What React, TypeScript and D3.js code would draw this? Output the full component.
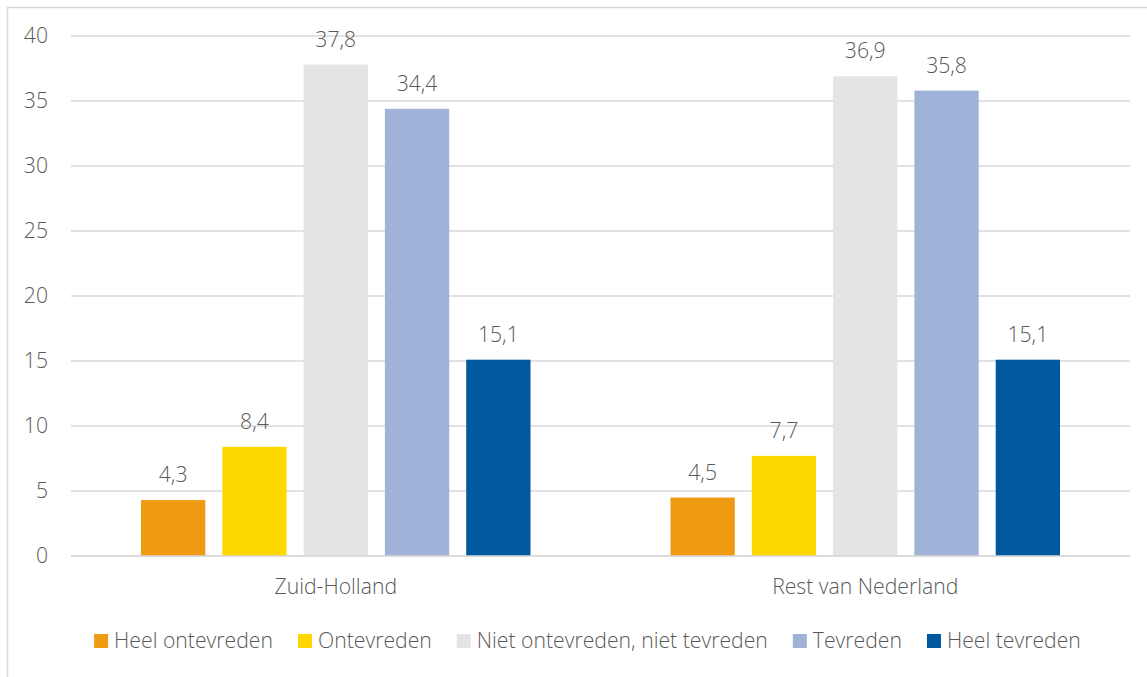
import React, { useEffect, useRef } from "react";
import * as d3 from "d3";

const categories = ["Zuid-Holland", "Rest van Nederland"];
const seriesNames = [
  "Heel ontevreden",
  "Ontevreden",
  "Niet ontevreden, niet tevreden",
  "Tevreden",
  "Heel tevreden",
];
const seriesColors = ["#EE9A13", "#FFD800", "#E4E4E4", "#9FB2D8", "#00589F"];
const zuidHolland = [4.3, 8.4, 37.8, 34.4, 15.1];
const restNederland = [4.5, 7.7, 36.9, 35.8, 15.1];
const yTicks = [0, 5, 10, 15, 20, 25, 30, 35, 40];

const W = 1147;
const H = 677;
const FONT = "'Open Sans', 'Noto Sans', sans-serif";
const WEIGHT = 300;
const FS = 21.2;
const TEXT = "#595959";

export default function App() {
  const ref = useRef<SVGSVGElement | null>(null);

  useEffect(() => {
    const svg = d3.select(ref.current);
    svg.selectAll("*").remove();
    const values = [zuidHolland, restNederland];

    svg
      .append("rect")
      .attr("x", 7.5)
      .attr("y", 7.5)
      .attr("width", W + 20)
      .attr("height", H + 20)
      .attr("fill", "white")
      .attr("stroke", "#D9D9D9")
      .attr("stroke-width", 1.5);

    const left = 71;
    const right = 1130;
    const top = 36;
    const bottom = 556;

    const y = d3.scaleLinear().domain([0, 40]).range([bottom, top]);
    const x0 = d3.scaleBand().domain(categories).range([left, right]).paddingInner(0).paddingOuter(0);
    const inner = 70 / 529.5;
    const x1 = d3
      .scaleBand()
      .domain(seriesNames)
      .range([x0.bandwidth() * inner, x0.bandwidth() * (1 - inner)])
      .paddingInner(17 / 81.2)
      .paddingOuter(0);

    const txt = (sel: any) =>
      sel
        .attr("font-family", FONT)
        .attr("font-weight", WEIGHT)
        .attr("font-size", FS)
        .attr("fill", TEXT);

    const grid = svg.append("g");
    yTicks.forEach((t) => {
      grid
        .append("line")
        .attr("x1", left)
        .attr("x2", right)
        .attr("y1", y(t))
        .attr("y2", y(t))
        .attr("stroke", "#D9D9D9")
        .attr("stroke-width", 1.5);
      grid
        .append("text")
        .attr("x", 48)
        .attr("y", y(t))
        .attr("dy", "0.35em")
        .attr("text-anchor", "end")
        .call(txt)
        .text(String(t));
    });

    categories.forEach((c, ci) => {
      const g = svg.append("g").attr("transform", `translate(${x0(c)},0)`);
      seriesNames.forEach((s, si) => {
        const v = values[ci][si];
        g.append("rect")
          .attr("x", x1(s)!)
          .attr("width", x1.bandwidth())
          .attr("y", y(v))
          .attr("height", y(0) - y(v))
          .attr("fill", seriesColors[si]);
        g.append("text")
          .attr("x", x1(s)! + x1.bandwidth() / 2)
          .attr("y", y(v) - 18)
          .attr("text-anchor", "middle")
          .call(txt)
          .text(String(v).replace(".", ","));
      });
      svg
        .append("text")
        .attr("x", x0(c)! + x0.bandwidth() / 2)
        .attr("y", 594)
        .attr("text-anchor", "middle")
        .call(txt)
        .text(c);
    });

    svg
      .append("line")
      .attr("x1", left)
      .attr("x2", right)
      .attr("y1", y(0))
      .attr("y2", y(0))
      .attr("stroke", "#D9D9D9")
      .attr("stroke-width", 1.5);

    const lg = svg.append("g");
    const items = seriesNames.map((s, i) => {
      const it = lg.append("g");
      it.append("rect")
        .attr("x", 0)
        .attr("y", -7)
        .attr("width", 14)
        .attr("height", 14)
        .attr("fill", seriesColors[i]);
      const t = it
        .append("text")
        .attr("x", 20)
        .attr("dy", "0.35em")
        .call(txt)
        .text(s);
      const w = (t.node() as SVGTextElement).getComputedTextLength();
      return { it, w: 20 + w };
    });
    const gap = 25;
    const total = d3.sum(items, (d) => d.w) + gap * (items.length - 1);
    let cx = 587.5 - total / 2;
    items.forEach((d) => {
      d.it.attr("transform", `translate(${cx},641)`);
      cx += d.w + gap;
    });
  }, []);

  return (
    <svg
      ref={ref}
      width={W}
      height={H}
      style={{ position: "fixed", left: 0, top: 0, background: "white" }}
    />
  );
}
